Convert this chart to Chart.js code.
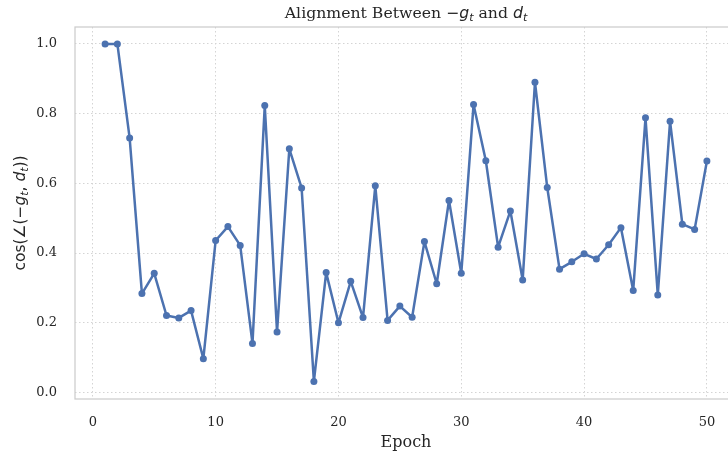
<!DOCTYPE html>
<html>
<head>
<meta charset="utf-8">
<script src="https://cdn.jsdelivr.net/npm/chart.js@4"></script>
<style>
    html, body { margin: 0; padding: 0; background: #fff; overflow: hidden; }
    .chart-box { position: relative; width: 745px; height: 456px; }
</style>
</head>
<body>
<div class="chart-box"><canvas id="alignChart"></canvas></div>
<script>
// Data
const epochs = [1, 2, 3, 4, 5, 6, 7, 8, 9, 10,
    11, 12, 13, 14, 15, 16, 17, 18, 19, 20,
    21, 22, 23, 24, 25, 26, 27, 28, 29, 30,
    31, 32, 33, 34, 35, 36, 37, 38, 39, 40,
    41, 42, 43, 44, 45, 46, 47, 48, 49, 50];
const cosValues = [1.000, 1.000, 0.730, 0.284, 0.342, 0.221, 0.214, 0.235, 0.097, 0.436,
    0.476, 0.422, 0.141, 0.823, 0.174, 0.699, 0.587, 0.032, 0.344, 0.200,
    0.319, 0.215, 0.593, 0.207, 0.248, 0.216, 0.433, 0.312, 0.551, 0.342,
    0.826, 0.665, 0.417, 0.521, 0.323, 0.890, 0.588, 0.354, 0.375, 0.398,
    0.383, 0.424, 0.473, 0.293, 0.788, 0.280, 0.778, 0.483, 0.468, 0.664];
const xTickValues = [0, 10, 20, 30, 40, 50];
const yTickValues = [0.0, 0.2, 0.4, 0.6, 0.8, 1.0];

const textColor = '#262626';
const lineColor = '#4C72B0';

// Draw a run of text pieces (regular / italic / subscript) starting at x
const drawRich = (ctx, pieces, x, y, size) => {
    let cx = x;
    pieces.forEach(p => {
        const fs = p.sub ? size * 0.7 : size;
        const family = p.math ? '"DejaVu Sans"' : p.family;
        ctx.font = `${p.italic ? 'italic ' : ''}${fs}px ${family}`;
        ctx.fillText(p.text, cx, p.sub ? y + size * 0.22 : y);
        cx += ctx.measureText(p.text).width;
    });
    return cx - x;
};
const measureRich = (ctx, pieces, size) => {
    let w = 0;
    pieces.forEach(p => {
        const fs = p.sub ? size * 0.7 : size;
        const family = p.math ? '"DejaVu Sans"' : p.family;
        ctx.font = `${p.italic ? 'italic ' : ''}${fs}px ${family}`;
        w += ctx.measureText(p.text).width;
    });
    return w;
};

const serif = '"DejaVu Serif"';
const titlePieces = [
    { text: 'Alignment Between ', family: serif },
    { text: '\u2212', math: true },
    { text: 'g', math: true, italic: true },
    { text: 't', math: true, italic: true, sub: true },
    { text: ' and ', family: serif },
    { text: 'd', math: true, italic: true },
    { text: 't', math: true, italic: true, sub: true }
];
const yLabelPieces = [
    { text: 'cos(\u2220(\u2212', math: true },
    { text: 'g', math: true, italic: true },
    { text: 't', math: true, italic: true, sub: true },
    { text: ', ', math: true },
    { text: 'd', math: true, italic: true },
    { text: 't', math: true, italic: true, sub: true },
    { text: '))', math: true }
];

const decorPlugin = {
    id: 'decor',
    beforeDatasetsDraw(chart) {
        const { ctx, chartArea: a } = chart;
        ctx.save();
        ctx.strokeStyle = '#cccccc';
        ctx.lineWidth = 1.25;
        ctx.strokeRect(a.left, a.top, a.right - a.left, a.bottom - a.top);
        ctx.restore();
    },
    afterDraw(chart) {
        const { ctx, chartArea: a } = chart;
        const midX = (a.left + a.right) / 2;
        ctx.save();
        ctx.fillStyle = textColor;
        ctx.textBaseline = 'alphabetic';
        ctx.textAlign = 'left';

        // title
        const tw = measureRich(ctx, titlePieces, 15.7);
        drawRich(ctx, titlePieces, midX - tw / 2, 18, 15.7);

        // x axis label
        ctx.font = `16px ${serif}`;
        ctx.textAlign = 'center';
        ctx.fillText('Epoch', midX, 447);

        // y axis label, rotated
        ctx.textAlign = 'left';
        ctx.translate(25, (a.top + a.bottom) / 2);
        ctx.rotate(-Math.PI / 2);
        const yw = measureRich(ctx, yLabelPieces, 15.5);
        drawRich(ctx, yLabelPieces, -yw / 2, 0, 15.5);
        ctx.restore();
    }
};

const canvas = document.getElementById('alignChart');
new Chart(canvas, {
    type: 'line',
    data: {
        datasets: [{
            data: epochs.map((e, i) => ({ x: e, y: cosValues[i] })),
            borderColor: lineColor,
            backgroundColor: lineColor,
            borderWidth: 2.5,
            borderJoinStyle: 'round',
            borderCapStyle: 'round',
            pointRadius: 3.5,
            pointBorderWidth: 0,
            tension: 0,
            fill: false
        }]
    },
    options: {
        responsive: true,
        maintainAspectRatio: false,
        animation: false,
        layout: { padding: { top: 27, left: 0, right: 8, bottom: 0 } },
        plugins: {
            legend: { display: false },
            title: { display: false },
            tooltip: { enabled: false }
        },
        scales: {
            x: {
                type: 'linear',
                min: -1.45,
                max: 52.45,
                afterBuildTicks: (scale) => { scale.ticks = xTickValues.map(v => ({ value: v })); },
                afterFit: (scale) => { scale.height = 57; },
                grid: { color: '#d4d4d4', lineWidth: 1, drawTicks: false },
                border: { display: false, dash: [1.5, 2.5] },
                ticks: {
                    color: textColor,
                    padding: 16,
                    font: { family: 'DejaVu Serif', size: 13 },
                    callback: (v) => String(v)
                }
            },
            y: {
                min: -0.0185,
                max: 1.0485,
                afterBuildTicks: (scale) => { scale.ticks = yTickValues.map(v => ({ value: v })); },
                afterFit: (scale) => { scale.width = 75; },
                grid: { color: '#d4d4d4', lineWidth: 1, drawTicks: false },
                border: { display: false, dash: [1.5, 2.5] },
                ticks: {
                    color: textColor,
                    padding: 18,
                    font: { family: 'DejaVu Serif', size: 13 },
                    callback: (v) => Number(v).toFixed(1)
                }
            }
        }
    },
    plugins: [decorPlugin]
});
</script>
</body>
</html>
